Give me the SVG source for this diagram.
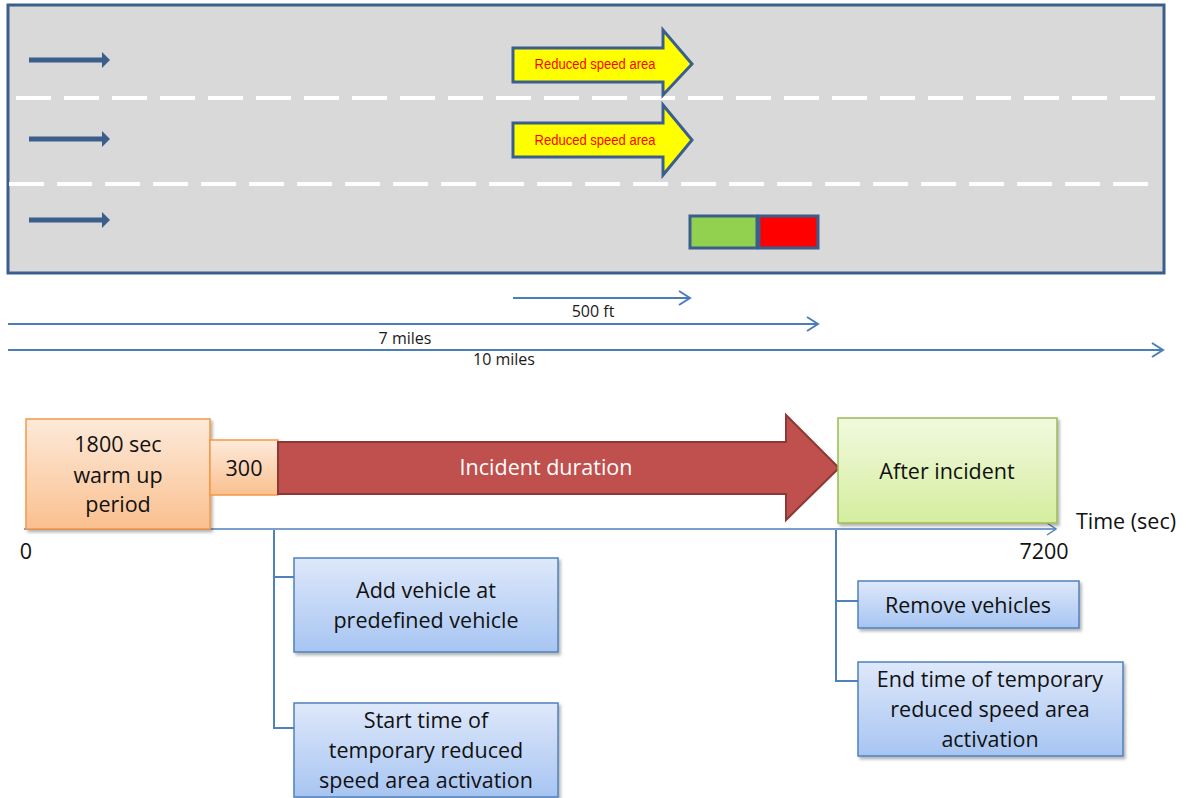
<svg xmlns="http://www.w3.org/2000/svg" width="1193" height="798" viewBox="0 0 1193 798">
<style>
.road{fill:#D9D9D9;stroke:#3B5E8C;stroke-width:3}
.dash{stroke:#FFFFFF;stroke-width:4;stroke-dasharray:35 13;fill:none}
.lane{fill:#3B5E8C}
.ya{fill:#FFFF00;stroke:#3B5E8C;stroke-width:3;stroke-linejoin:miter}
.yt{font-family:"Liberation Sans",Arial,sans-serif;font-size:14px;fill:#FF0000;text-anchor:middle}
.car{stroke:#3B5E8C;stroke-width:3}
.dim{stroke:#4A7EBB;stroke-width:2;fill:none}
.dt{font-family:"Open Sans","Liberation Sans",sans-serif;font-size:16px;fill:#1a1a1a;text-anchor:middle}
.big{font-family:"Open Sans","Liberation Sans",sans-serif;font-size:21.5px;fill:#111;text-anchor:middle}
.conn{stroke:#4F81BD;stroke-width:2;fill:none}
.axis{stroke:#4F81BD;stroke-width:1.5;fill:none}
.bbox{fill:url(#gBlue);stroke:#4F81BD;stroke-width:1.5;filter:url(#sh)}
</style>
<defs>
<linearGradient id="gOrange" x1="0" y1="0" x2="0" y2="1"><stop offset="0" stop-color="#FDEADA"/><stop offset="1" stop-color="#FAC08F"/></linearGradient>
<linearGradient id="gGreen" x1="0" y1="0" x2="0" y2="1"><stop offset="0" stop-color="#F1F9DE"/><stop offset="1" stop-color="#D5EE9F"/></linearGradient>
<linearGradient id="gBlue" x1="0" y1="0" x2="0" y2="1"><stop offset="0" stop-color="#DEE8FA"/><stop offset="1" stop-color="#A7C5F2"/></linearGradient>
<filter id="sh" x="-10%" y="-10%" width="130%" height="140%"><feDropShadow dx="2" dy="2.5" stdDeviation="1.5" flood-color="#000" flood-opacity="0.3"/></filter>
</defs>

<g id="road">
<rect class="road" x="8" y="5" width="1156" height="268"/>
<line class="dash" x1="16" y1="98" x2="1164" y2="98"/>
<line class="dash" x1="9" y1="184" x2="1160" y2="184"/>
</g>

<g id="lane-arrows">
<path class="lane" d="M29,57.5 H102 V52 L110,60 L102,68 V62.5 H29 Z"/>
<path class="lane" d="M29,136.5 H102 V131 L110,139 L102,147 V141.5 H29 Z"/>
<path class="lane" d="M29,217.5 H102 V212 L110,220 L102,228 V222.5 H29 Z"/>
</g>

<g id="reduced-speed-1">
<path class="ya" d="M513,48 H663 V30 L692,64 L663,95 V82 H513 Z"/>
<text class="yt" x="595" y="69" textLength="121" lengthAdjust="spacingAndGlyphs">Reduced speed area</text>
</g>
<g id="reduced-speed-2">
<path class="ya" d="M513,123 H663 V105 L692,140 L663,175 V157 H513 Z"/>
<text class="yt" x="595" y="145" textLength="121" lengthAdjust="spacingAndGlyphs">Reduced speed area</text>
</g>

<g id="vehicles">
<rect class="car" x="690" y="216" width="67" height="32" fill="#92D050"/>
<rect class="car" x="759" y="216" width="59" height="32" fill="#FF0000"/>
</g>

<g id="dimensions">
<line class="dim" x1="513" y1="298" x2="690" y2="298"/>
<polyline class="dim" points="679,291 690,298 679,305"/>
<text class="dt" x="593" y="317">500 ft</text>
<line class="dim" x1="8" y1="324" x2="818" y2="324"/>
<polyline class="dim" points="807,317 818,324 807,331"/>
<text class="dt" x="405" y="344">7 miles</text>
<line class="dim" x1="8" y1="350" x2="1163" y2="350"/>
<polyline class="dim" points="1152,343 1163,350 1152,357"/>
<text class="dt" x="504" y="365">10 miles</text>
</g>

<g id="connectors">
<line class="axis" x1="24" y1="529" x2="1056" y2="529"/>
<polyline class="axis" points="1047,523 1056,529 1047,535"/>
<polyline class="conn" points="274,530 274,728 294,728"/>
<line class="conn" x1="274" y1="577" x2="294" y2="577"/>
<polyline class="conn" points="836,530 836,681 858,681"/>
<line class="conn" x1="836" y1="601" x2="858" y2="601"/>
</g>

<g id="warmup">
<rect x="26" y="419" width="184" height="110" fill="url(#gOrange)" stroke="#F79646" stroke-width="1.5" filter="url(#sh)"/>
<text class="big" x="118" y="452">1800 sec</text>
<text class="big" x="118" y="483">warm up</text>
<text class="big" x="118" y="512">period</text>
</g>

<g id="p300">
<rect x="210" y="440" width="68" height="55" fill="url(#gOrange)" stroke="#F79646" stroke-width="1.5"/>
<text class="big" x="244" y="476">300</text>
</g>

<g id="incident">
<path d="M278,442 H786 V415 L839,468 L786,520 V494 H278 Z" fill="#C0504D" stroke="#8C3836" stroke-width="2"/>
<text class="big" x="546" y="475" style="fill:#FFFFFF">Incident duration</text>
</g>

<g id="after">
<rect x="838" y="418" width="219" height="105" fill="url(#gGreen)" stroke="#9BBB59" stroke-width="1.5" filter="url(#sh)"/>
<text class="big" x="947" y="479">After incident</text>
</g>

<g id="axis-labels">
<text class="big" x="1126" y="529">Time (sec)</text>
<text class="big" x="26" y="559">0</text>
<text class="big" x="1044" y="559">7200</text>
</g>

<g id="add-vehicle">
<rect class="bbox" x="294" y="558" width="264" height="94"/>
<text class="big" x="426" y="598">Add vehicle at</text>
<text class="big" x="426" y="628">predefined vehicle</text>
</g>

<g id="start-time">
<rect class="bbox" x="294" y="703" width="264" height="94"/>
<text class="big" x="426" y="728">Start time of</text>
<text class="big" x="426" y="758">temporary reduced</text>
<text class="big" x="426" y="788">speed area activation</text>
</g>

<g id="remove-vehicles">
<rect class="bbox" x="858" y="581" width="221" height="47"/>
<text class="big" x="968" y="613">Remove vehicles</text>
</g>

<g id="end-time">
<rect class="bbox" x="858" y="662" width="265" height="94"/>
<text class="big" x="990" y="687">End time of temporary</text>
<text class="big" x="990" y="717">reduced speed area</text>
<text class="big" x="990" y="747">activation</text>
</g>
</svg>
